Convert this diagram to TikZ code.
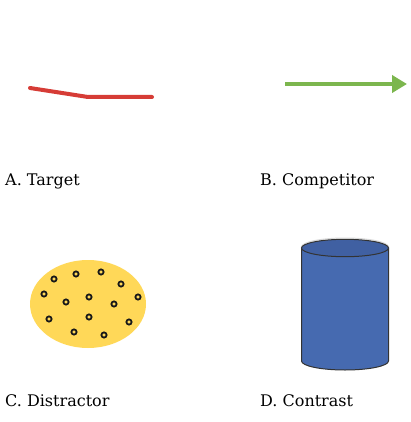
\documentclass[tikz,border=0pt]{standalone}
\usepackage{fontspec}
\setmainfont{DejaVu Serif}
\usetikzlibrary{arrows.meta}

\definecolor{targetred}{RGB}{214,60,54}
\definecolor{compgreen}{RGB}{124,182,78}
\definecolor{blobyellow}{RGB}{255,216,88}
\definecolor{canblue}{RGB}{70,106,176}
\definecolor{cantop}{RGB}{64,96,162}

\tikzstyle{arrow} = [line width=4pt,-{Triangle[length=15pt,width=17pt]}]
\tikzstyle{caption} = [
        anchor=base west,
        inner sep=0pt,
        font=\fontsize{16pt}{18pt}\selectfont,
    ]
\tikzstyle{dot} = [
        draw=black!90,
        line width=1.8pt,
        fill=blobyellow,
    ]

\begin{document}
\begin{tikzpicture}[x=1pt,y=-1pt]
            \useasboundingbox (0,0) rectangle (411,422);
            % A. target
            \draw [targetred, line width=4pt, line cap=round] (30,88) -- (88,97) -- (152,97);
            \node [caption] (target) at (5,185) {A. Target};
            % B. competitor
            \coordinate (start) at (285,84);
            \coordinate (end) at (407,84);
            \draw [arrow, compgreen] (start) -- (end);
            \node [caption] (competitor) at (260,185) {B. Competitor};
            % C. distractor
            \fill [blobyellow] (88,304) ellipse [x radius=58pt, y radius=44pt];
            \foreach \x/\y in {54/279, 76/274, 101/272, 121/284, 44/294, 66/302, 89/297,
                               114/304, 138/297, 49/319, 89/317, 129/322, 74/332, 104/335}
                \draw [dot] (\x,\y) circle [radius=2.6pt];
            \node [caption] (distractor) at (5,406) {C. Distractor};
            % D. contrast
            \filldraw [fill=canblue, draw=black!80, line width=1pt]
                (301.5,248) -- (301.5,361) arc [start angle=180, end angle=360, x radius=43.5pt, y radius=9pt]
                -- (388.5,248) -- cycle;
            \draw [black!15, line width=1pt] (345,247) ellipse [x radius=43.5pt, y radius=9pt];
            \filldraw [fill=cantop, draw=black!80, line width=1pt] (345,248) ellipse [x radius=43.5pt, y radius=8.7pt];
            \node [caption] (contrast) at (260,406) {D. Contrast};
        \end{tikzpicture}
\end{document}
